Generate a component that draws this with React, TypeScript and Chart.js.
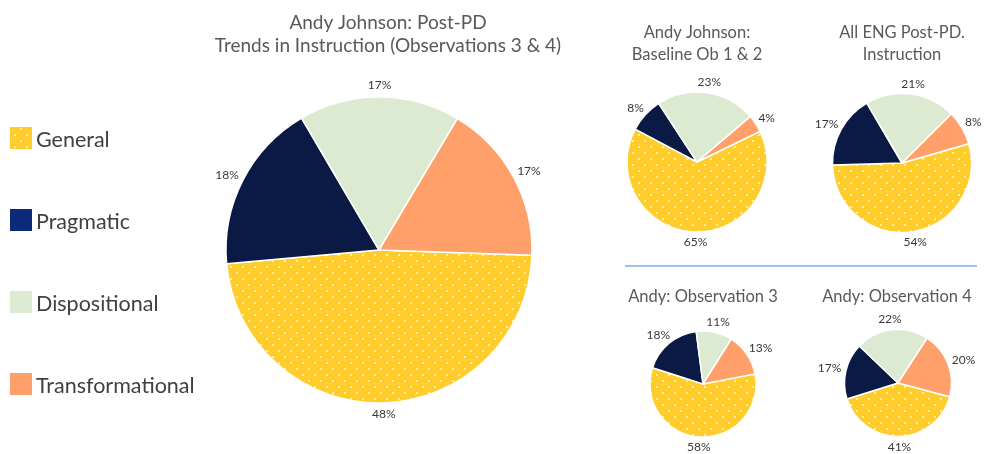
import React, { useEffect, useRef } from "react";
import { Chart, registerables } from "chart.js";

Chart.register(...registerables);

// ---------- data ----------
const categories = ["General", "Pragmatic", "Dispositional", "Transformational"];
const postPD = [48, 18, 17, 17];
const baseline = [65, 8, 23, 4];
const allEng = [54, 17, 21, 8];
const obs3 = [58, 18, 11, 13];
const obs4 = [41, 17, 22, 20];

const mainTitle = ["Andy Johnson: Post-PD", "Trends in Instruction (Observations 3 & 4)"];
const baselineTitle = ["Andy Johnson:", "Baseline Ob 1 & 2"];
const allEngTitle = ["All ENG Post-PD.", "Instruction"];
const obs3Title = ["Andy: Observation 3"];
const obs4Title = ["Andy: Observation 4"];

// ---------- styles ----------
const FONT = "Lato, 'Open Sans', sans-serif";
const NAVY = "#0B1A45";
const GREEN = "#DCEAD2";
const ORANGE = "#FFA06A";
const YELLOW = "#FFCD2B";

function makeDotPattern(): CanvasPattern | string {
  const t = document.createElement("canvas");
  t.width = 12;
  t.height = 12;
  const c = t.getContext("2d");
  if (!c) return YELLOW;
  c.fillStyle = YELLOW;
  c.fillRect(0, 0, 12, 12);
  c.fillStyle = "rgba(255,255,255,0.8)";
  [[3, 3], [9, 9]].forEach(([px, py]) => {
    c.beginPath();
    c.arc(px, py, 1, 0, Math.PI * 2);
    c.fill();
  });
  const p = c.createPattern(t, "repeat");
  return p || YELLOW;
}

const pieLabels = {
  id: "pieLabels",
  afterDatasetsDraw(chart: any, _args: any, opts: any) {
    const { ctx } = chart;
    const meta = chart.getDatasetMeta(0);
    const values = chart.data.datasets[0].data;
    ctx.save();
    ctx.font = `${opts.size}px ${FONT}`;
    ctx.fillStyle = "#383838";
    ctx.textAlign = "center";
    ctx.textBaseline = "middle";
    meta.data.forEach((arc: any, i: number) => {
      const { x, y, startAngle, endAngle, outerRadius } = arc.getProps(
        ["x", "y", "startAngle", "endAngle", "outerRadius"],
        true
      );
      const mid = (startAngle + endAngle) / 2;
      const dx = Math.cos(mid);
      const dy = Math.sin(mid);
      const text = `${values[i]}%`;
      const w = ctx.measureText(text).width;
      const lx = x + dx * (outerRadius + opts.pad) + (dx * w) / 2;
      const ly = y + dy * (outerRadius + opts.pad) + dy * opts.size * 0.45;
      ctx.fillText(text, lx, ly);
    });
    ctx.restore();
  },
};

const titleText = {
  id: "titleText",
  afterDraw(chart: any, _args: any, opts: any) {
    const { ctx } = chart;
    ctx.save();
    ctx.font = `${opts.size}px ${FONT}`;
    ctx.fillStyle = "#595959";
    ctx.textAlign = "center";
    ctx.textBaseline = "middle";
    opts.lines.forEach((line: string, i: number) => {
      ctx.fillText(line, opts.x, opts.ys[i]);
    });
    ctx.restore();
  },
};

const sideLegend = {
  id: "sideLegend",
  afterDraw(chart: any, _args: any, opts: any) {
    if (!opts || !opts.show) return;
    const { ctx } = chart;
    const colors = chart.data.datasets[0].backgroundColor;
    ctx.save();
    ctx.font = `${opts.size}px ${FONT}`;
    ctx.textAlign = "left";
    ctx.textBaseline = "middle";
    chart.data.labels.forEach((label: string, i: number) => {
      const cy = opts.y0 + i * opts.step;
      ctx.fillStyle = i === 1 ? "#0D2A78" : colors[i];
      ctx.fillRect(opts.x, cy - opts.box / 2, opts.box, opts.box);
      ctx.fillStyle = "#404040";
      ctx.fillText(label, opts.x + opts.box + 4, cy + 2);
    });
    ctx.restore();
  },
};

type Spec = {
  data: number[];
  title: string[];
  box: { x: number; y: number; w: number; h: number };
  cx: number;
  cy: number;
  r: number;
  rotation: number;
  titleX: number;
  titleYs: number[];
  titleSize: number;
  labelSize: number;
  labelPad: number;
  legend?: boolean;
};

const specs: Spec[] = [
  {
    data: postPD,
    title: mainTitle,
    box: { x: 0, y: 0, w: 600, h: 454 },
    cx: 379,
    cy: 250,
    r: 153,
    rotation: 92,
    titleX: 388,
    titleYs: [23, 46],
    titleSize: 19,
    labelSize: 12,
    labelPad: 6,
    legend: true,
  },
  {
    data: baseline,
    title: baselineTitle,
    box: { x: 600, y: 0, w: 200, h: 262 },
    cx: 697,
    cy: 162,
    r: 70,
    rotation: 64,
    titleX: 697,
    titleYs: [33, 55],
    titleSize: 16.5,
    labelSize: 12,
    labelPad: 5,
  },
  {
    data: allEng,
    title: allEngTitle,
    box: { x: 800, y: 0, w: 186, h: 262 },
    cx: 902,
    cy: 163,
    r: 69.5,
    rotation: 74,
    titleX: 902,
    titleYs: [33, 55],
    titleSize: 16.5,
    labelSize: 12,
    labelPad: 5,
  },
  {
    data: obs3,
    title: obs3Title,
    box: { x: 600, y: 270, w: 200, h: 184 },
    cx: 703,
    cy: 384,
    r: 53,
    rotation: 79,
    titleX: 703,
    titleYs: [297],
    titleSize: 16.5,
    labelSize: 12,
    labelPad: 5,
  },
  {
    data: obs4,
    title: obs4Title,
    box: { x: 800, y: 270, w: 186, h: 184 },
    cx: 898,
    cy: 383,
    r: 53.5,
    rotation: 105,
    titleX: 897,
    titleYs: [297],
    titleSize: 16.5,
    labelSize: 12,
    labelPad: 5,
  },
];

function PieCanvas({ spec }: { spec: Spec }) {
  const ref = useRef<HTMLCanvasElement | null>(null);
  useEffect(() => {
    if (!ref.current) return;
    const { box, cx, cy, r } = spec;
    const m = 10;
    const chart = new Chart(ref.current, {
      type: "pie",
      data: {
        labels: categories,
        datasets: [
          {
            data: spec.data,
            backgroundColor: [makeDotPattern(), NAVY, GREEN, ORANGE] as any,
            borderColor: "#ffffff",
            borderWidth: 1.5,
          },
        ],
      },
      options: {
        responsive: false,
        animation: false,
        rotation: spec.rotation,
        radius: r,
        layout: {
          padding: {
            left: cx - box.x - r - m,
            right: box.x + box.w - (cx + r) - m,
            top: cy - box.y - r - m,
            bottom: box.y + box.h - (cy + r) - m,
          },
        },
        plugins: {
          legend: { display: false },
          tooltip: { enabled: false },
          title: { display: false },
          pieLabels: { size: spec.labelSize, pad: spec.labelPad },
          titleText: {
            lines: spec.title,
            x: spec.titleX - box.x,
            ys: spec.titleYs.map((v) => v - box.y),
            size: spec.titleSize,
          },
          sideLegend: spec.legend
            ? { show: true, x: 10, y0: 138, step: 82, box: 22, size: 21.5 }
            : { show: false },
        } as any,
      } as any,
      plugins: [pieLabels, titleText, sideLegend],
    });
    return () => chart.destroy();
  }, [spec]);
  const { box } = spec;
  return (
    <canvas
      ref={ref}
      width={box.w}
      height={box.h}
      style={{
        position: "absolute",
        left: box.x,
        top: box.y,
        width: box.w,
        height: box.h,
      }}
    />
  );
}

export default function App() {
  return (
    <div
      style={{
        position: "absolute",
        left: 0,
        top: 0,
        width: 986,
        height: 454,
        background: "#ffffff",
        overflow: "hidden",
      }}
    >
      {specs.map((s, i) => (
        <PieCanvas key={i} spec={s} />
      ))}
      <div
        style={{
          position: "absolute",
          left: 625,
          top: 265,
          width: 352,
          height: 2,
          background: "#9DC3E6",
        }}
      />
    </div>
  );
}
